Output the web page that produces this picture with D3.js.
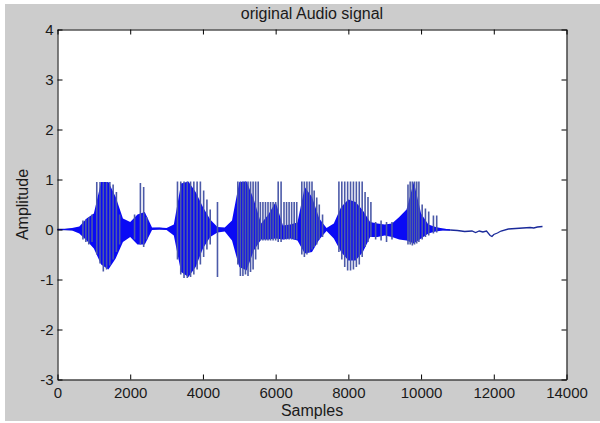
<!DOCTYPE html>
<html>
<head>
<meta charset="utf-8">
<script src="https://cdn.jsdelivr.net/npm/d3@7"></script>
<style>
  body { margin: 0; background: #fff; }
  svg { display: block; font-family: "Liberation Sans", Arial, sans-serif; }
</style>
</head>
<body>
<div id="chart"></div>
<script>
// envelope of the waveform body, every 200 samples
const envSamples = [0,200,400,600,800,1000,1200,1400,1600,1800,2000,2200,2400,2600,2800,3000,3200,3400,3600,3800,4000,4200,4400,4600,4800,5000,5200,5400,5600,5800,6000,6200,6400,6600,6800,7000,7200,7400,7600,7800,8000,8200,8400,8600,8800,9000,9200,9400,9600,9800,10000,10200,10400,10600,10800];
const envHigh = [0.01,0.01,0.03,0.06,0.22,0.32,0.95,0.95,0.65,0.22,0.15,0.3,0.35,0.04,0.04,0.03,0.1,0.92,0.96,0.75,0.45,0.2,0.05,0.04,0.18,0.95,0.96,0.6,0.12,0.3,0.55,0.08,0.1,0.14,0.85,0.65,0.22,0.03,0.12,0.45,0.6,0.55,0.38,0.15,0.12,0.1,0.12,0.25,0.4,0.95,0.32,0.1,0.05,0.02,0.0];
const envLow = [-0.01,-0.01,-0.02,-0.08,-0.22,-0.38,-0.7,-0.8,-0.58,-0.25,-0.15,-0.3,-0.3,-0.01,0.0,-0.01,-0.12,-0.85,-0.95,-0.75,-0.38,-0.15,-0.06,-0.04,-0.22,-0.75,-0.82,-0.42,-0.2,-0.2,-0.18,-0.2,-0.18,-0.22,-0.48,-0.45,-0.2,-0.03,-0.18,-0.45,-0.62,-0.62,-0.45,-0.15,-0.15,-0.12,-0.15,-0.2,-0.22,-0.28,-0.18,-0.08,-0.04,-0.02,-0.02];

// single pitch pulses (thin vertical strokes)
const spikeSamples = [700,780,860,950,1080,1170,1260,1350,1440,1530,1620,1710,2120,2280,2370,2450,3300,3390,3480,3570,3660,3750,3840,3930,4020,4110,4200,4400,4960,5030,5100,5170,5240,5310,5380,5450,5520,5580,5650,5720,5790,5860,5930,6000,6070,6150,6230,6300,6370,6440,6510,6580,6720,6790,6860,6930,7000,7060,7130,7200,7290,7740,7820,7900,7980,8060,8140,8220,8300,8380,8460,8540,8620,8750,8900,9050,9200,9640,9700,9760,9820,9880,9940,10030,10120,10210,10340,10430];
const spikeHigh = [0.18,0.2,0.25,0.3,0.95,0.95,0.95,0.95,0.95,0.9,0.75,0.3,0.3,0.93,0.85,0.25,0.96,0.96,0.96,0.96,0.96,0.96,0.96,0.96,0.78,0.6,0.4,0.55,0.96,0.96,0.96,0.96,0.96,0.96,0.96,0.96,0.96,0.55,0.55,0.55,0.55,0.55,0.55,0.55,0.96,0.96,0.55,0.55,0.55,0.55,0.55,0.55,0.96,0.96,0.96,0.96,0.96,0.78,0.64,0.5,0.3,0.96,0.96,0.96,0.96,0.96,0.96,0.96,0.96,0.96,0.75,0.65,0.55,0.15,0.18,0.15,0.15,0.9,0.96,0.96,0.96,0.96,0.96,0.5,0.42,0.36,0.28,0.28];
const spikeLow = [-0.2,-0.25,-0.3,-0.25,-0.5,-0.68,-0.84,-0.8,-0.72,-0.6,-0.45,-0.3,-0.2,-0.3,-0.35,-0.2,-0.6,-0.9,-0.97,-0.97,-0.95,-0.9,-0.8,-0.7,-0.55,-0.4,-0.3,-0.95,-0.7,-0.93,-0.93,-0.9,-0.93,-0.85,-0.8,-0.6,-0.4,-0.22,-0.22,-0.22,-0.22,-0.22,-0.22,-0.22,-0.25,-0.25,-0.2,-0.2,-0.2,-0.2,-0.2,-0.2,-0.5,-0.55,-0.5,-0.45,-0.4,-0.35,-0.3,-0.2,-0.15,-0.45,-0.6,-0.75,-0.82,-0.82,-0.8,-0.75,-0.7,-0.55,-0.35,-0.25,-0.15,-0.2,-0.22,-0.25,-0.2,-0.3,-0.3,-0.32,-0.3,-0.28,-0.25,-0.2,-0.15,-0.12,-0.08,-0.06];

// quiet tail at the end of the recording
const tailSamples = [10800,11000,11200,11400,11500,11600,11700,11800,11900,11950,12000,12100,12200,12400,12600,12800,13000,13100,13200,13340];
const tailValues = [-0.01,-0.02,-0.04,-0.03,-0.06,-0.03,-0.05,-0.03,-0.12,-0.14,-0.1,-0.07,-0.03,0.01,0.02,0.03,0.04,0.03,0.05,0.06];

const xTicks = [0,2000,4000,6000,8000,10000,12000,14000];
const yTicks = [-3,-2,-1,0,1,2,3,4];

const width = 600;
const height = 423;
const marginLeft = 57.5;
const marginRight = 566.5;
const marginTop = 29.5;
const marginBottom = 379.5;

const x = d3.scaleLinear().domain([0, 14000]).range([marginLeft, marginRight]);
const y = d3.scaleLinear().domain([-3, 4]).range([marginBottom, marginTop]);

// plain hyphen minus like MATLAB labels
const plain = d => String(d);

const svg = d3.select("#chart").append("svg")
    .attr("width", width)
    .attr("height", height);

// figure background
svg.append("rect")
    .attr("x", 5).attr("y", 4)
    .attr("width", width - 5).attr("height", height - 6)
    .attr("fill", "#cccccc");

svg.append("rect")
    .attr("x", marginLeft).attr("y", marginTop)
    .attr("width", marginRight - marginLeft).attr("height", marginBottom - marginTop)
    .attr("fill", "#fff");

const env = envSamples.map((s, i) => ({s: s, hi: envHigh[i], lo: envLow[i]}));
const spikes = spikeSamples.map((s, i) => ({s: s, hi: spikeHigh[i], lo: spikeLow[i]}));
const tail = tailSamples.map((s, i) => ({s: s, v: tailValues[i]}));

const plot = svg.append("g");

// thin centre trace
plot.append("path")
    .datum(env)
    .attr("fill", "none")
    .attr("stroke", "#1a2a9a")
    .attr("stroke-width", 1.3)
    .attr("d", d3.line().x(d => x(d.s)).y(d => y((d.hi + d.lo) / 2)));

plot.append("path")
    .datum(env)
    .attr("fill", "#0a0af5")
    .attr("d", d3.area().x(d => x(d.s)).y0(d => y(d.lo)).y1(d => y(d.hi)));

plot.selectAll(".spike")
    .data(spikes)
    .join("line")
      .attr("class", "spike")
      .attr("x1", d => x(d.s)).attr("x2", d => x(d.s))
      .attr("y1", d => y(d.lo)).attr("y2", d => y(d.hi))
      .attr("stroke", "#4c5aa8")
      .attr("stroke-width", 1.6);

plot.append("path")
    .datum(tail)
    .attr("fill", "none")
    .attr("stroke", "#1a2a9a")
    .attr("stroke-width", 1.3)
    .attr("d", d3.line().x(d => x(d.s)).y(d => y(d.v)));

// axes, MATLAB style: ticks inside on all four sides
const styleAxis = g => {
  g.selectAll(".domain").attr("stroke", "#000");
  g.selectAll(".tick line").attr("stroke", "#000");
  g.selectAll(".tick text").attr("fill", "#1a1a1a").attr("font-size", 15)
      .attr("font-family", "'Liberation Sans', Arial, sans-serif");
};

svg.append("g")
    .attr("transform", `translate(0,${marginBottom})`)
    .call(d3.axisBottom(x).tickValues(xTicks).tickFormat(plain)
      .tickSizeInner(-5).tickSizeOuter(0).tickPadding(8))
    .call(styleAxis);

svg.append("g")
    .attr("transform", `translate(0,${marginTop})`)
    .call(d3.axisTop(x).tickValues(xTicks).tickSizeInner(-5).tickSizeOuter(0).tickFormat(""))
    .call(styleAxis);

svg.append("g")
    .attr("transform", `translate(${marginLeft},0)`)
    .call(d3.axisLeft(y).tickValues(yTicks).tickFormat(plain)
      .tickSizeInner(-5).tickSizeOuter(0).tickPadding(4))
    .call(styleAxis);

svg.append("g")
    .attr("transform", `translate(${marginRight},0)`)
    .call(d3.axisRight(y).tickValues(yTicks).tickSizeInner(-5).tickSizeOuter(0).tickFormat(""))
    .call(styleAxis);

svg.append("text")
    .attr("x", (marginLeft + marginRight) / 2)
    .attr("y", 19)
    .attr("text-anchor", "middle")
    .attr("font-size", 16)
    .attr("fill", "#1a1a1a")
    .text("original Audio signal");

svg.append("text")
    .attr("x", (marginLeft + marginRight) / 2)
    .attr("y", 416)
    .attr("text-anchor", "middle")
    .attr("font-size", 16)
    .attr("fill", "#1a1a1a")
    .text("Samples");

svg.append("text")
    .attr("transform", `translate(28,${(marginTop + marginBottom) / 2}) rotate(-90)`)
    .attr("text-anchor", "middle")
    .attr("font-size", 16)
    .attr("fill", "#1a1a1a")
    .text("Amplitude");
</script>
</body>
</html>
